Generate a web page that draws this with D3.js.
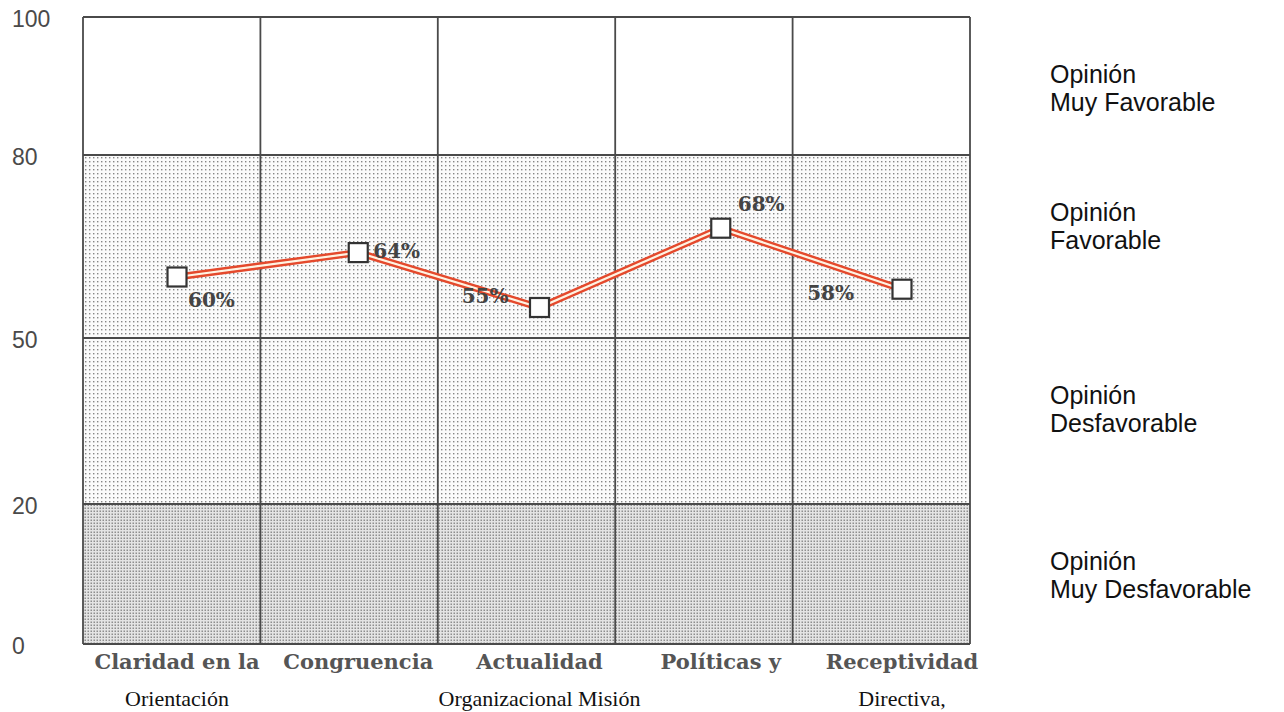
<!DOCTYPE html>
<html>
<head>
<meta charset="utf-8">
<script src="https://cdn.jsdelivr.net/npm/d3@7"></script>
<style>
  html, body { margin: 0; padding: 0; background: #fff; }
  svg { display: block; }
</style>
</head>
<body>
<svg id="chart" width="1284" height="712"></svg>
<script>
// Dimensions evaluated per category (percent of favourable opinion)
const categories = ["Claridad en la", "Congruencia", "Actualidad", "Políticas y", "Receptividad"];
const categoryLine2 = ["Orientación", "", "Organizacional Misión", "", "Directiva,"];
const values = [60, 64, 55, 68, 58];

// Opinion bands on the vertical scale
const bandBreaks = [0, 20, 50, 80, 100];
const bandNames = [
  ["Opinión", "Muy Desfavorable"],
  ["Opinión", "Desfavorable"],
  ["Opinión", "Favorable"],
  ["Opinión", "Muy Favorable"]
];
const yTickValues = [0, 20, 50, 80, 100];

// Layout
const plot = { left: 83, right: 970, top: 17, bottom: 644 };
const svg = d3.select("#chart");

// Bands are drawn with unequal heights, so the scale is piecewise linear
const y = d3.scaleLinear()
  .domain(bandBreaks)
  .range([plot.bottom, 504, 338, 155, plot.top]);

const xCols = d3.scaleBand().domain(categories).range([plot.left, plot.right]);
const x = d3.scalePoint().domain(categories).range([177, 902]);

// Dot screens used for the shaded bands
const defs = svg.append("defs");
const light = defs.append("pattern").attr("id", "dotsLight")
  .attr("width", 4).attr("height", 4).attr("patternUnits", "userSpaceOnUse");
light.append("rect").attr("width", 4).attr("height", 4).attr("fill", "#fbfbfb");
light.append("rect").attr("x", 1).attr("y", 1).attr("width", 1.4).attr("height", 1.4).attr("fill", "#868686");

const dense = defs.append("pattern").attr("id", "dotsDense")
  .attr("width", 3).attr("height", 3).attr("patternUnits", "userSpaceOnUse");
dense.append("rect").attr("width", 3).attr("height", 3).attr("fill", "#e4e4e4");
dense.append("rect").attr("x", 0.5).attr("y", 0.5).attr("width", 1.5).attr("height", 1.5).attr("fill", "#8e8e8e");

const bandFills = ["url(#dotsDense)", "url(#dotsLight)", "url(#dotsLight)", "#ffffff"];

const bands = bandNames.map((name, i) => ({ lo: bandBreaks[i], hi: bandBreaks[i + 1], name, fill: bandFills[i] }));

svg.append("g").selectAll("rect").data(bands).join("rect")
  .attr("x", plot.left)
  .attr("width", plot.right - plot.left)
  .attr("y", d => y(d.hi))
  .attr("height", d => y(d.lo) - y(d.hi))
  .attr("fill", d => d.fill);

// Grid: horizontal band boundaries and vertical column separators
const gridColor = "#4a4a4a";
svg.append("g").selectAll("line").data(bandBreaks).join("line")
  .attr("x1", plot.left).attr("x2", plot.right)
  .attr("y1", d => y(d)).attr("y2", d => y(d))
  .attr("stroke", gridColor).attr("stroke-width", 1.8);

const colEdges = categories.map(c => xCols(c)).concat([plot.right]);
svg.append("g").selectAll("line").data(colEdges).join("line")
  .attr("x1", d => d).attr("x2", d => d)
  .attr("y1", plot.top).attr("y2", plot.bottom)
  .attr("stroke", gridColor).attr("stroke-width", 1.8);

// Y axis labels
const yAxis = d3.axisLeft(y).tickValues(yTickValues).tickSize(0).tickFormat(d3.format("d"));
const yg = svg.append("g").attr("transform", `translate(${plot.left},0)`).call(yAxis);
yg.select(".domain").remove();
yg.selectAll("text")
  .attr("x", 12 - plot.left)
  .attr("dy", "0.4em")
  .attr("text-anchor", "start")
  .attr("fill", "#4a4a4a")
  .style("font-family", "'Liberation Sans', Arial, sans-serif")
  .style("font-size", "23px");

// Category labels (two lines)
const catG = svg.append("g");
catG.selectAll("text.l1").data(categories).join("text")
  .attr("class", "l1")
  .attr("x", d => x(d)).attr("y", 669)
  .attr("text-anchor", "middle")
  .attr("fill", "#555")
  .style("font-family", "'DejaVu Serif', serif")
  .style("font-weight", "bold")
  .style("font-size", "21px")
  .text(d => d);
catG.selectAll("text.l2").data(categories).join("text")
  .attr("class", "l2")
  .attr("x", d => x(d)).attr("y", 706)
  .attr("text-anchor", "middle")
  .attr("fill", "#111")
  .style("font-family", "'Liberation Serif', 'Times New Roman', serif")
  .style("font-size", "22px")
  .text((d, i) => categoryLine2[i]);

// Band names on the right
const nameG = svg.append("g");
bands.forEach(b => {
  const t = nameG.append("text")
    .attr("x", 1050)
    .attr("y", y(b.hi) + 66)
    .attr("fill", "#111")
    .style("font-family", "'Liberation Sans', Arial, sans-serif")
    .style("font-size", "25px");
  b.name.forEach((line, k) => {
    t.append("tspan").attr("x", 1050).attr("dy", k === 0 ? 0 : 28).text(line);
  });
});

// Data line: red double stroke
const pts = categories.map((c, i) => ({ c, v: values[i] }));
const line = d3.line().x(d => x(d.c)).y(d => y(d.v));
svg.append("path").datum(pts)
  .attr("d", line).attr("fill", "none")
  .attr("stroke", "#e4492c").attr("stroke-width", 7).attr("stroke-linejoin", "miter");
svg.append("path").datum(pts)
  .attr("d", line).attr("fill", "none")
  .attr("stroke", "#fff3e2").attr("stroke-width", 2.2).attr("stroke-linejoin", "miter");

// Square markers
const ms = 19;
svg.append("g").selectAll("rect").data(pts).join("rect")
  .attr("x", d => x(d.c) - ms / 2).attr("y", d => y(d.v) - ms / 2)
  .attr("width", ms).attr("height", ms)
  .attr("fill", "#ffffff").attr("stroke", "#333").attr("stroke-width", 2.2);

// Value labels, placed around each marker
const labelPlacement = [
  { dx: 11, dy: 23, anchor: "start" },
  { dx: 15, dy: -2, anchor: "start" },
  { dx: -31, dy: -12, anchor: "end" },
  { dx: 17, dy: -24, anchor: "start" },
  { dx: -48, dy: 4, anchor: "end" }
];
svg.append("g").selectAll("text").data(pts).join("text")
  .attr("x", (d, i) => x(d.c) + labelPlacement[i].dx)
  .attr("y", (d, i) => y(d.v) + labelPlacement[i].dy)
  .attr("dy", "0.35em")
  .attr("text-anchor", (d, i) => labelPlacement[i].anchor)
  .attr("fill", "#444")
  .style("font-family", "'DejaVu Serif', serif")
  .style("font-weight", "bold")
  .style("font-size", "20px")
  .text(d => d.v + "%");
</script>
</body>
</html>
